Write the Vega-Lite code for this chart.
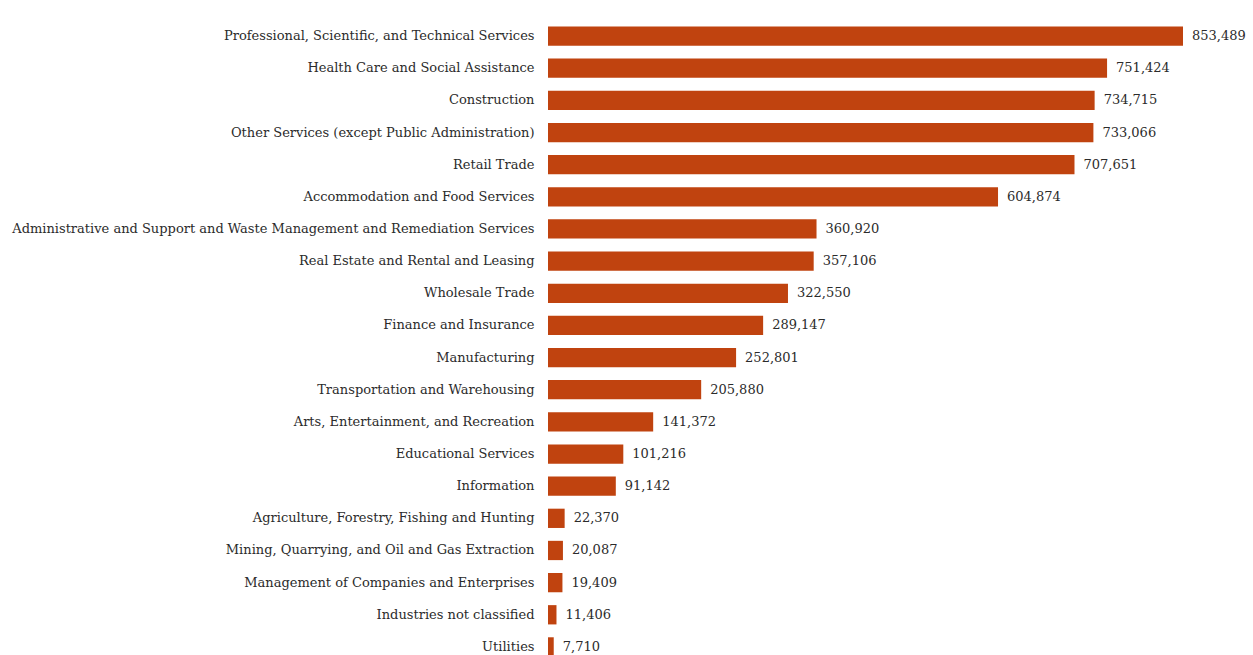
{
  "$schema": "https://vega.github.io/schema/vega-lite/v6.json",
  "width": 635,
  "height": 643,
  "autosize": {"type": "none"},
  "padding": {"left": 548, "top": 20, "right": 70, "bottom": 0},
  "background": "white",
  "config": {"view": {"stroke": null}, "font": "DejaVu Serif"},
  "data": {"values": [
    {"industry": "Professional, Scientific, and Technical Services", "value": 853489},
    {"industry": "Health Care and Social Assistance", "value": 751424},
    {"industry": "Construction", "value": 734715},
    {"industry": "Other Services (except Public Administration)", "value": 733066},
    {"industry": "Retail Trade", "value": 707651},
    {"industry": "Accommodation and Food Services", "value": 604874},
    {"industry": "Administrative and Support and Waste Management and Remediation Services", "value": 360920},
    {"industry": "Real Estate and Rental and Leasing", "value": 357106},
    {"industry": "Wholesale Trade", "value": 322550},
    {"industry": "Finance and Insurance", "value": 289147},
    {"industry": "Manufacturing", "value": 252801},
    {"industry": "Transportation and Warehousing", "value": 205880},
    {"industry": "Arts, Entertainment, and Recreation", "value": 141372},
    {"industry": "Educational Services", "value": 101216},
    {"industry": "Information", "value": 91142},
    {"industry": "Agriculture, Forestry, Fishing and Hunting", "value": 22370},
    {"industry": "Mining, Quarrying, and Oil and Gas Extraction", "value": 20087},
    {"industry": "Management of Companies and Enterprises", "value": 19409},
    {"industry": "Industries not classified", "value": 11406},
    {"industry": "Utilities", "value": 7710}
  ]},
  "encoding": {
    "y": {"field": "industry", "type": "nominal", "sort": {"field": "value", "order": "descending"},
      "scale": {"paddingInner": 0.4, "paddingOuter": 0.2},
      "axis": {"title": null, "domain": false, "ticks": false, "labelPadding": 14, "labelLimit": 0, "labelFontSize": 13, "labelColor": "#2b2b2b", "labelFont": "DejaVu Serif"}},
    "x": {"field": "value", "type": "quantitative", "scale": {"domain": [0, 853489], "nice": false}, "axis": null}
  },
  "layer": [
    {"mark": {"type": "bar", "color": "#C0430F"}},
    {"mark": {"type": "text", "align": "left", "dx": 9, "fontSize": 13, "color": "#2b2b2b", "font": "DejaVu Serif"},
     "encoding": {"text": {"field": "value", "type": "quantitative", "format": ",d"}}}
  ]
}
